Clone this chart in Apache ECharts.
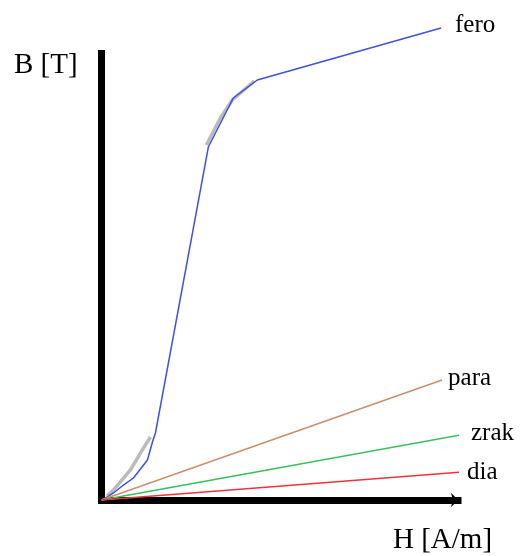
<!DOCTYPE html>
<html>
<head>
<meta charset="utf-8">
<script src="https://cdn.jsdelivr.net/npm/echarts@6/dist/echarts.min.js"></script>
<style>html,body{margin:0;padding:0;background:#fff;}#c{width:520px;height:556px;}</style>
</head>
<body>
<div id="c"></div>
<script>
// Values in arbitrary units: H 0..100 along the drawn x-axis, B 0..100 along the drawn y-axis
const seriesNames = ['fero', 'para', 'zrak', 'dia'];
const feroH = [0, 1.12, 3.36, 6.16, 8.96, 12.89, 14.29, 15.13, 29.97, 36.97, 43.70, 95.24];
const feroB = [0, 0.44, 1.56, 3.33, 4.89, 8.89, 12.89, 14.89, 78.44, 89.33, 93.33, 104.89];
const paraH = [0, 95.52];
const paraB = [0, 26.67];
const zrakH = [0, 101.4];
const zrakB = [0, 14.56];
const diaH = [0, 104.76];
const diaB = [0, 6.44];
// grey sketch strokes under the fero curve (null = gap)
const sketchH = [1.5, 3.36, 8.12, 10.92, 13.73, null, 29.41, 33.33, 36.69, 42.86];
const sketchB = [0.9, 2.22, 6.67, 10.44, 14.0, null, 78.89, 84.89, 88.89, 93.11];
const axisTitles = ['B [T]', 'H [A/m]'];

function pairs(xs, ys) { return xs.map((x, i) => (x === null ? [null, null] : [x, ys[i]])); }

const font = '"Liberation Serif", "DejaVu Serif", serif';
const chart = echarts.init(document.getElementById('c'), null, { renderer: 'canvas' });

function lineSeries(name, data, color, dist, offY) {
  return {
    name: name, type: 'line', data: data, clip: false, showSymbol: false, symbol: 'none',
    lineStyle: { color: color, width: 1.5 }, z: 3, silent: true,
    endLabel: { show: true, formatter: name, color: '#000', fontFamily: font, fontSize: 25,
      distance: dist, offset: [0, offY] }
  };
}

chart.setOption({
  animation: false,
  backgroundColor: '#fff',
  grid: { left: 101.5, right: 62, top: 50, bottom: 56 },
  xAxis: { type: 'value', min: 0, max: 100,
    axisLine: { show: true, symbol: ['none', 'arrow'], symbolSize: [11, 7], lineStyle: { color: '#000', width: 7, cap: 'square' } },
    axisTick: { show: false }, axisLabel: { show: false }, splitLine: { show: false } },
  yAxis: { type: 'value', min: 0, max: 100,
    axisLine: { show: true, lineStyle: { color: '#000', width: 7, cap: 'butt' } },
    axisTick: { show: false }, axisLabel: { show: false }, splitLine: { show: false } },
  graphic: [
    { type: 'text', left: 14, top: 51, style: { text: axisTitles[0], font: '29px ' + font, fill: '#000' } },
    { type: 'text', left: 393, top: 526, style: { text: axisTitles[1], font: '29px ' + font, fill: '#000' } }
  ],
  series: [
    { name: 'sketch', type: 'line', data: pairs(sketchH, sketchB), clip: false, showSymbol: false, symbol: 'none',
      connectNulls: false, lineStyle: { color: 'rgba(120,120,120,0.5)', width: 3.5 }, z: 2, silent: true },
    lineSeries(seriesNames[0], pairs(feroH, feroB), '#3f50e4', 14, -3),
    lineSeries(seriesNames[1], pairs(paraH, paraB), '#c98f6e', 6, -2),
    lineSeries(seriesNames[2], pairs(zrakH, zrakB), '#36c15a', 12, -2),
    lineSeries(seriesNames[3], pairs(diaH, diaB), '#f0323c', 8, 0)
  ]
});
</script>
</body>
</html>
